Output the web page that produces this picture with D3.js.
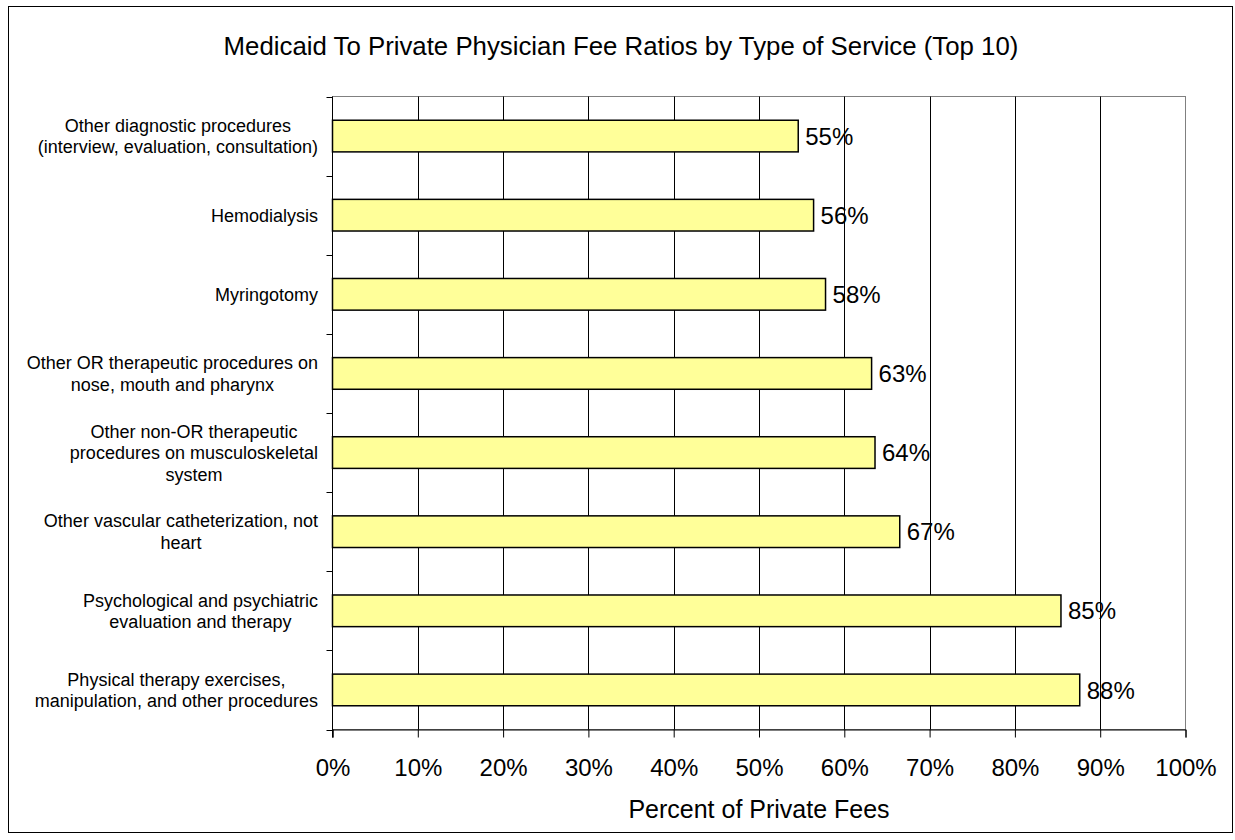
<!DOCTYPE html>
<html>
<head>
<meta charset="utf-8">
<script src="https://cdn.jsdelivr.net/npm/d3@7"></script>
<style>
  body { margin: 0; background: #fff; }
  text { font-family: Arial, "Liberation Sans", sans-serif; fill: #000; }
</style>
</head>
<body>
<div id="chart"></div>
<script>
// categories top to bottom, each label split into its wrapped lines
var categories = [
  ["Other diagnostic procedures", "(interview, evaluation, consultation)"],
  ["Hemodialysis"],
  ["Myringotomy"],
  ["Other OR therapeutic procedures on", "nose, mouth and pharynx"],
  ["Other non-OR therapeutic", "procedures on musculoskeletal", "system"],
  ["Other vascular catheterization, not", "heart"],
  ["Psychological and psychiatric", "evaluation and therapy"],
  ["Physical therapy exercises,", "manipulation, and other procedures"]
];
var ratios = [0.546, 0.564, 0.578, 0.632, 0.636, 0.665, 0.854, 0.876];
var ratioLabels = ["55%", "56%", "58%", "63%", "64%", "67%", "85%", "88%"];
var xTicks = [0, 0.1, 0.2, 0.3, 0.4, 0.5, 0.6, 0.7, 0.8, 0.9, 1.0];

var W = 1235, H = 840;
var plot = {left: 332.5, right: 1185.5, top: 96.5, bottom: 729.5};

var svg = d3.select("#chart").append("svg")
  .attr("width", W).attr("height", H);

// outer chart border
svg.append("rect")
  .attr("x", 8.5).attr("y", 6.5)
  .attr("width", 1224).attr("height", 826)
  .attr("fill", "#fff").attr("stroke", "#000").attr("stroke-width", 1);

svg.append("text")
  .attr("x", 621).attr("y", 55)
  .attr("text-anchor", "middle")
  .style("font-size", "25.8px")
  .text("Medicaid To Private Physician Fee Ratios by Type of Service (Top 10)");

var x = d3.scaleLinear().domain([0, 1]).range([plot.left, plot.right]);
var idx = d3.range(categories.length);
var y = d3.scaleBand().domain(idx)
  .range([plot.top, plot.bottom])
  .paddingInner(0.6).paddingOuter(0.3);

// plot area border (gray top/right)
svg.append("rect")
  .attr("x", plot.left).attr("y", plot.top)
  .attr("width", plot.right - plot.left).attr("height", plot.bottom - plot.top)
  .attr("fill", "none").attr("stroke", "#808080");

// vertical gridlines
svg.append("g").selectAll("line")
  .data(xTicks.slice(1, -1))
  .enter().append("line")
  .attr("x1", function(d) { return Math.round(x(d)) + 0.5; })
  .attr("x2", function(d) { return Math.round(x(d)) + 0.5; })
  .attr("y1", plot.top).attr("y2", plot.bottom)
  .attr("stroke", "#000");

// x axis
var xAxis = svg.append("g")
  .attr("transform", "translate(0," + plot.bottom + ")")
  .call(d3.axisBottom(x).tickValues(xTicks).tickSize(8).tickPadding(21)
    .tickFormat(d3.format(".0%")));
xAxis.select(".domain").attr("stroke", "#000");
xAxis.selectAll("line").attr("stroke", "#000");
xAxis.selectAll("text").style("font-size", "24px").attr("fill", "#000");

// y axis: ticks sit between categories
var yAxis = svg.append("g")
  .attr("transform", "translate(" + plot.left + ",0)");
yAxis.append("line")
  .attr("x1", 0).attr("x2", 0)
  .attr("y1", plot.top).attr("y2", plot.bottom + 8)
  .attr("stroke", "#000");
yAxis.selectAll(".tk")
  .data(d3.range(categories.length + 1))
  .enter().append("line")
  .attr("class", "tk")
  .attr("x1", -6).attr("x2", 0)
  .attr("y1", function(i) { return Math.round(plot.top + i * y.step()) + 0.5; })
  .attr("y2", function(i) { return Math.round(plot.top + i * y.step()) + 0.5; })
  .attr("stroke", "#000");

// bars
svg.append("g").selectAll("rect")
  .data(idx)
  .enter().append("rect")
  .attr("x", x(0))
  .attr("y", function(i) { return y(i); })
  .attr("width", function(i) { return x(ratios[i]) - x(0); })
  .attr("height", y.bandwidth())
  .attr("fill", "#FFFF99")
  .attr("stroke", "#000").attr("stroke-width", 1.5);

// value labels
svg.append("g").selectAll("text")
  .data(idx)
  .enter().append("text")
  .attr("x", function(i) { return x(ratios[i]) + 7; })
  .attr("y", function(i) { return y(i) + y.bandwidth() / 2; })
  .attr("dy", "0.36em")
  .style("font-size", "24px")
  .text(function(i) { return ratioLabels[i]; });

// category labels, wrapped lines centred on each other, block right edge at 318
var lineH = 21.5;
var labels = svg.append("g").selectAll("text")
  .data(idx)
  .enter().append("text")
  .style("font-size", "18px")
  .attr("text-anchor", "middle");
labels.each(function(i) {
  var t = d3.select(this);
  var lines = categories[i];
  var cy = y(i) + y.bandwidth() / 2;
  lines.forEach(function(s, k) {
    t.append("tspan").text(s)
      .attr("y", cy + (k - (lines.length - 1) / 2) * lineH)
      .attr("dy", "0.36em");
  });
  var maxW = 0;
  t.selectAll("tspan").each(function() {
    maxW = Math.max(maxW, this.getComputedTextLength());
  });
  t.selectAll("tspan").attr("x", 318 - maxW / 2);
});

svg.append("text")
  .attr("x", (plot.left + plot.right) / 2).attr("y", 818)
  .attr("text-anchor", "middle")
  .style("font-size", "25px")
  .text("Percent of Private Fees");
</script>
</body>
</html>
